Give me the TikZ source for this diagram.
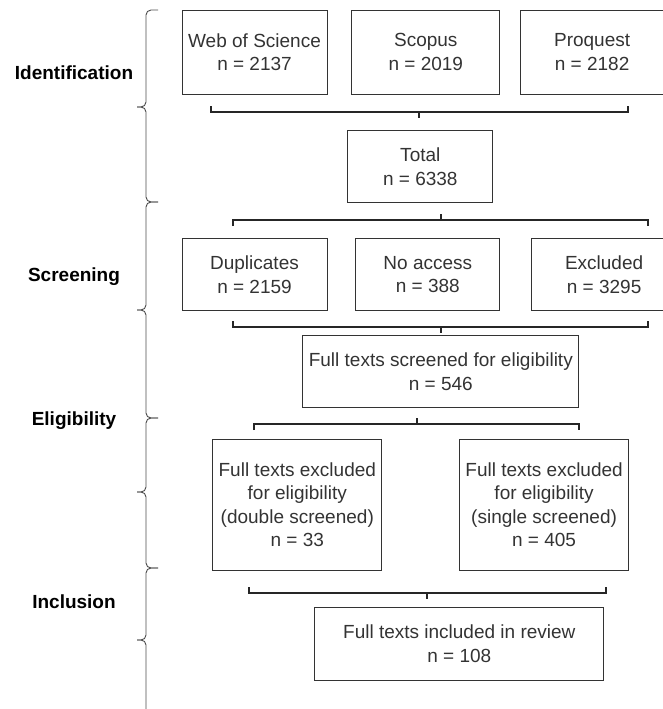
\documentclass[tikz,border=0pt]{standalone}
\usepackage{fontspec}
\setmainfont{Liberation Sans}
\usetikzlibrary{positioning}

\begin{document}
\begin{tikzpicture}[x=1pt, y=-1pt, node distance=24pt,
                    box/.style={draw=black!80, line width=0.8pt, text=black!80, align=center,
                                inner sep=2pt, minimum width=145pt, minimum height=72pt,
                                font=\fontsize{19}{23.5}\selectfont},
                    phase/.style={font=\fontsize{19}{23}\selectfont\bfseries},
                    bar/.style={line width=2pt, black!85},
                    curly/.style={draw=black!70, line width=0.9pt, rounded corners=5pt}]

  \useasboundingbox (0,0) rectangle (663,709);

  % identification
  \node[box, minimum height=84pt] (wos) at (254.5,52) {Web of Science\\n = 2137};
  \node[box, minimum height=84pt, minimum width=148pt] (scopus) [right=24pt of wos] {Scopus\\n = 2019};
  \node[box, minimum height=84pt, minimum width=143pt] (proquest) [right=20pt of scopus] {Proquest\\n = 2182};
  \node[box] (total) [below=36pt of scopus, xshift=-5.5pt] {Total\\n = 6338};

  % screening
  \node[box] (dup) [below=144pt of wos] {Duplicates\\n = 2159};
  \node[box, minimum width=144pt] (noacc) [right=28pt of dup] {No access\\n = 388};
  \node[box] (excl) [right=31pt of noacc] {Excluded\\n = 3295};
  \node[box, minimum width=276pt] (screened) [below=24pt of noacc, xshift=13pt] {Full texts screened for eligibility\\n = 546};

  % eligibility
  \node[box, minimum width=169pt, minimum height=131pt] (dbl) [below=31pt of screened, xshift=-143.5pt]
       {Full texts excluded\\for eligibility\\(double screened)\\n = 33};
  \node[box, minimum width=169pt, minimum height=131pt] (sgl) [right=77pt of dbl]
       {Full texts excluded\\for eligibility\\(single screened)\\n = 405};

  % inclusion
  \node[box, minimum width=289pt, minimum height=73pt] (incl) [below=36pt of dbl, xshift=162pt]
       {Full texts included in review\\n = 108};

  % brackets between the rows
  \draw[bar] (211,106) -- (211,112) -- (628,112) -- (628,106) (419,112) -- (419,118);
  \draw[bar] (233,226) -- (233,220) -- (648,220) -- (648,226) (441,220) -- (441,214);
  \draw[bar] (233,321) -- (233,327) -- (648,327) -- (648,321) (441,327) -- (441,333);
  \draw[bar] (254,430) -- (254,424) -- (579,424) -- (579,430) (417,424) -- (417,418);
  \draw[bar] (249,587) -- (249,593) -- (606,593) -- (606,587) (427,593) -- (427,599);

  % phases
  \draw[curly] (158,10) -- (146,10) -- (146,107) -- (137,107);
  \draw[curly] (137,107) -- (146,107) -- (146,202) -- (158,202);
  \draw[curly] (158,202) -- (146,202) -- (146,310) -- (137,310);
  \draw[curly] (137,310) -- (146,310) -- (146,418) -- (158,418);
  \draw[curly] (158,418) -- (146,418) -- (146,492) -- (137,492);
  \draw[curly] (137,492) -- (146,492) -- (146,568) -- (158,568);
  \draw[curly] (158,568) -- (146,568) -- (146,640) -- (137,640);
  \draw[curly] (137,640) -- (146,640) -- (146,712);

  \node[phase] (ident) at (74,73) {Identification};
  \node[phase] (screen) at (74,277) {Screening};
  \node[phase] (elig) at (74,421) {Eligibility};
  \node[phase] (inclu) at (74,602) {Inclusion};

\end{tikzpicture}
\end{document}
